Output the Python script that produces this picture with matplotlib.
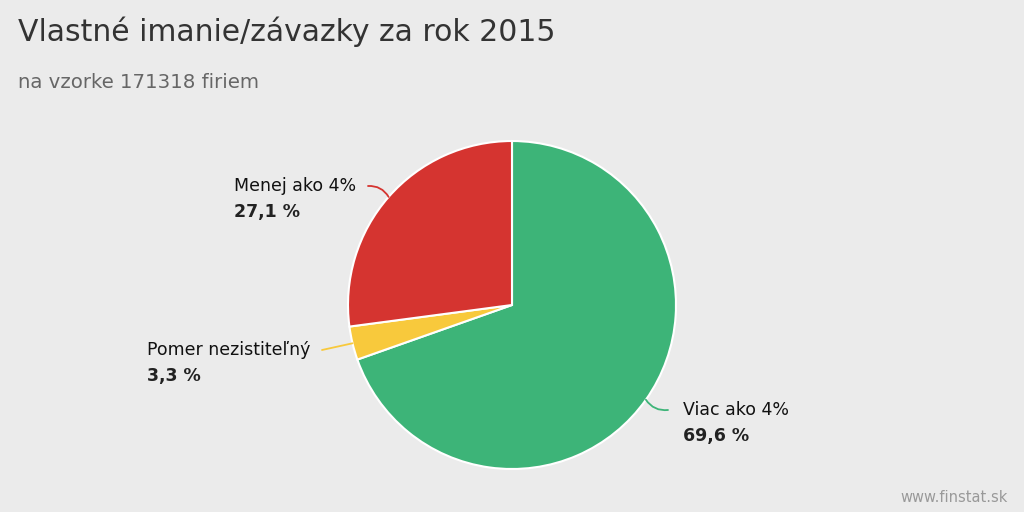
import numpy as np
import matplotlib
matplotlib.use("Agg")
from matplotlib import pyplot as plt

# Data
labels = ["Viac ako 4%", "Pomer nezistiteľný", "Menej ako 4%"]
shares = [69.6, 3.3, 27.1]
share_texts = ["69,6 %", "3,3 %", "27,1 %"]
colors = ["#3db478", "#f8c93c", "#d53430"]

title = "Vlastné imanie/závazky za rok 2015"
subtitle = "na vzorke 171318 firiem"

plt.rcParams['font.family'] = ['DejaVu Sans']

W, H = 1024, 512
fig = plt.figure(figsize=(W / 100, H / 100), dpi=100, facecolor="#ebebeb")
ax = fig.add_axes([0, 0, 1, 1])

cx, cy, r = 512, H - 305, 164
wedges, _ = ax.pie(shares, colors=colors, startangle=90, counterclock=False,
                   center=(cx, cy), radius=r, frame=True,
                   wedgeprops=dict(edgecolor="white", linewidth=1.5))
ax.set_xlim(0, W)
ax.set_ylim(0, H)
ax.set_aspect("equal")
ax.axis("off")

# label placement: text x, text y, connector end x
label_pos = {
    0: (683, H - 410, 668),
    1: (147, H - 350, 322),
    2: (234, H - 186, 368),
}

for i, w in enumerate(wedges):
    ang = np.deg2rad((w.theta1 + w.theta2) / 2)
    ex, ey = cx + r * np.cos(ang), cy + r * np.sin(ang)
    tx, ty, lx = label_pos[i]
    rad = {0: -0.3, 1: 0.0, 2: -0.3}[i]
    ax.annotate("", xy=(ex, ey), xytext=(lx, ty),
                arrowprops=dict(arrowstyle="-", color=colors[i], lw=1.3,
                                connectionstyle=f"arc3,rad={rad}",
                                shrinkA=0, shrinkB=0))
    ax.text(tx, ty, labels[i], ha="left", va="center", fontsize=12.5,
            color="#111111")
    ax.text(tx, ty - 26, share_texts[i], ha="left", va="center",
            fontsize=12.5, fontweight="bold", color="#222222")

fig.text(18 / W, 1 - 32 / H, title, ha="left", va="center", fontsize=21.5,
         color="#333333")
fig.text(18 / W, 1 - 83 / H, subtitle, ha="left", va="center", fontsize=14.2,
         color="#666666")
fig.text(1 - 16 / W, 1 - 497 / H, "www.finstat.sk", ha="right", va="center",
         fontsize=10.5, color="#999999")

fig.savefig("out.png", dpi=100, facecolor=fig.get_facecolor())
